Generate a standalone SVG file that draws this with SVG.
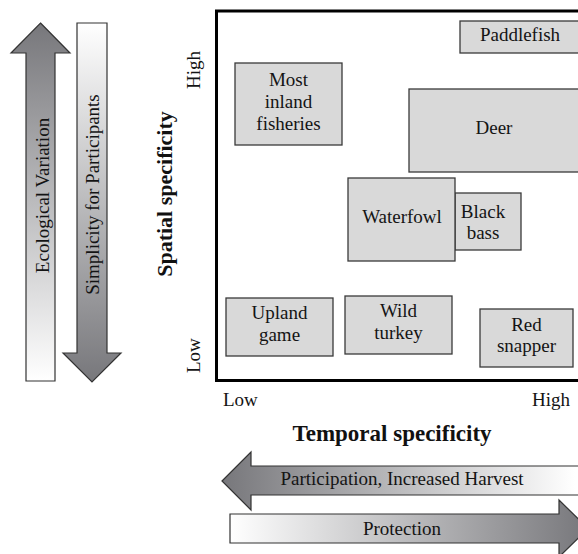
<svg xmlns="http://www.w3.org/2000/svg" width="578" height="554" viewBox="0 0 578 554">
  <style>
    .lbl { font-family: "Liberation Serif", "Times New Roman", serif; font-size: 19px; fill: #141414; }
    .ttl { font-family: "Liberation Serif", "Times New Roman", serif; font-size: 23px; font-weight: bold; fill: #111; }
    .box { fill: #d9d9d9; stroke: #3a3a3a; stroke-width: 1.3; }
    .arr { stroke: #333; stroke-width: 1.2; stroke-linejoin: miter; }
    .mid { text-anchor: middle; }
  </style>
  <defs>
    <linearGradient id="gDown" x1="0" y1="0" x2="0" y2="1">
      <stop offset="0" stop-color="#ffffff"/>
      <stop offset="1" stop-color="#77777b"/>
    </linearGradient>
    <linearGradient id="gUp" x1="0" y1="1" x2="0" y2="0">
      <stop offset="0" stop-color="#ffffff"/>
      <stop offset="1" stop-color="#77777b"/>
    </linearGradient>
    <linearGradient id="gLeft" gradientUnits="userSpaceOnUse" x1="222" y1="0" x2="575" y2="0">
      <stop offset="0" stop-color="#77777b"/>
      <stop offset="1" stop-color="#ffffff"/>
    </linearGradient>
    <linearGradient id="gRight" gradientUnits="userSpaceOnUse" x1="230" y1="0" x2="588" y2="0">
      <stop offset="0" stop-color="#ffffff"/>
      <stop offset="1" stop-color="#77777b"/>
    </linearGradient>
  </defs>

  <!-- vertical trend arrows -->
  <g id="ecological-variation">
    <path class="arr" fill="url(#gUp)" d="M40.5,23 L70,53 L55,53 L55,381 L26,381 L26,53 L11,53 Z"/>
    <text class="lbl mid" transform="translate(48.5,195.5) rotate(-90)">Ecological Variation</text>
  </g>
  <g id="simplicity">
    <path class="arr" fill="url(#gDown)" d="M77,23 L107,23 L107,353 L121,353 L92,382 L63,353 L77,353 Z"/>
    <text class="lbl mid" transform="translate(98.5,194.5) rotate(-90)">Simplicity for Participants</text>
  </g>

  <!-- axis titles and tick labels -->
  <g id="axes">
    <text class="ttl mid" style="font-size:22px" transform="translate(172,194) rotate(-90)">Spatial specificity</text>
    <text class="lbl" transform="translate(200,89) rotate(-90)">High</text>
    <text class="lbl" transform="translate(200,373) rotate(-90)">Low</text>
    <text class="lbl" x="223" y="406">Low</text>
    <text class="lbl" x="570" y="406" text-anchor="end">High</text>
    <text class="ttl mid" x="392" y="441">Temporal specificity</text>
  </g>

  <!-- plot frame -->
  <rect id="frame" x="216.5" y="11" width="400" height="369.5" fill="none" stroke="#000" stroke-width="3"/>

  <!-- resource nodes -->
  <g id="paddlefish">
    <rect class="box" x="460" y="21" width="130" height="32"/>
    <text class="lbl mid" x="520" y="41">Paddlefish</text>
  </g>
  <g id="inland-fisheries">
    <rect class="box" x="235" y="63" width="107" height="82"/>
    <text class="lbl mid" x="288.5" y="86">Most</text>
    <text class="lbl mid" x="288.5" y="108">inland</text>
    <text class="lbl mid" x="288.5" y="130">fisheries</text>
  </g>
  <g id="deer">
    <rect class="box" x="409" y="89" width="180" height="83"/>
    <text class="lbl mid" x="494" y="134">Deer</text>
  </g>
  <g id="black-bass">
    <rect class="box" x="455" y="193" width="66" height="57"/>
    <text class="lbl mid" x="483" y="218">Black</text>
    <text class="lbl mid" x="483" y="239">bass</text>
  </g>
  <g id="waterfowl">
    <rect class="box" x="348" y="178" width="107" height="83"/>
    <text class="lbl mid" x="402" y="223">Waterfowl</text>
  </g>
  <g id="upland-game">
    <rect class="box" x="226" y="298" width="107" height="58"/>
    <text class="lbl mid" x="279.5" y="319">Upland</text>
    <text class="lbl mid" x="279.5" y="341">game</text>
  </g>
  <g id="wild-turkey">
    <rect class="box" x="345" y="296" width="107" height="58"/>
    <text class="lbl mid" x="398.5" y="317">Wild</text>
    <text class="lbl mid" x="398.5" y="339">turkey</text>
  </g>
  <g id="red-snapper">
    <rect class="box" x="480" y="309" width="93" height="58"/>
    <text class="lbl mid" x="526.5" y="331">Red</text>
    <text class="lbl mid" x="526.5" y="352">snapper</text>
  </g>

  <!-- horizontal trend arrows -->
  <g id="participation">
    <path class="arr" fill="url(#gLeft)" d="M222,481 L251,452 L251,466 L590,466 L590,495 L251,495 L251,510 Z"/>
    <text class="lbl mid" x="402" y="485">Participation, Increased Harvest</text>
  </g>
  <g id="protection">
    <path class="arr" fill="url(#gRight)" d="M230,514 L559,514 L559,500 L588,528.5 L559,557 L559,543 L230,543 Z"/>
    <text class="lbl mid" x="402" y="535">Protection</text>
  </g>
</svg>
